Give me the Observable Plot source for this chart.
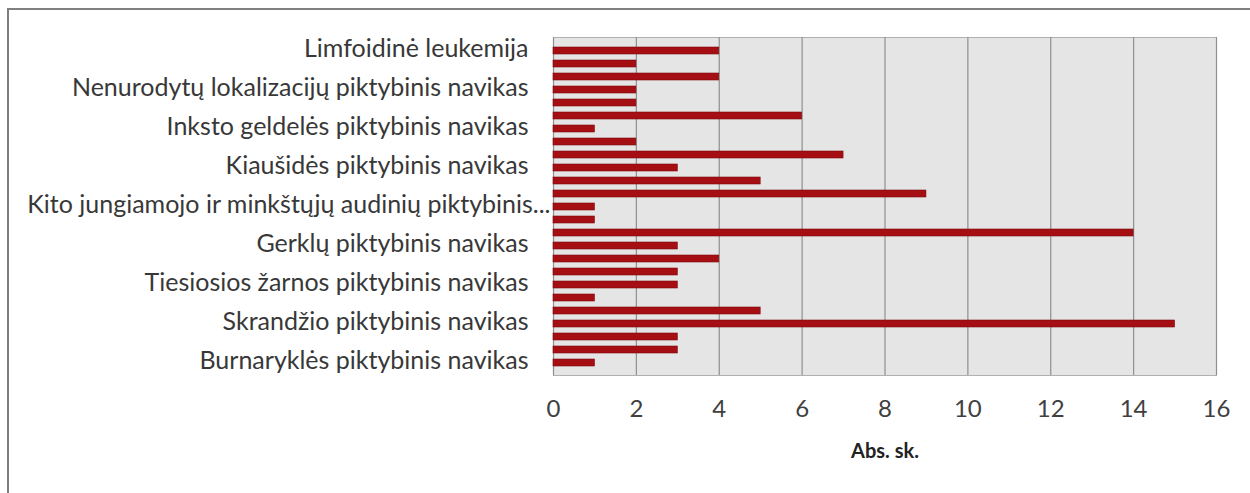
<!DOCTYPE html>
<html>
<head>
<meta charset="utf-8">
<script src="https://cdn.jsdelivr.net/npm/d3@7"></script>
<script src="https://cdn.jsdelivr.net/npm/@observablehq/plot@0.6"></script>
<style>
  html, body { margin: 0; padding: 0; background: #fff; overflow: hidden; }
  #wrap { position: relative; width: 1250px; height: 493px; overflow: hidden; }
  #frame { position: absolute; left: 7px; top: 8px; width: 1400px; height: 700px;
           border-left: 2px solid #7f7f7f; border-top: 2px solid #7f7f7f; box-sizing: border-box; }
  #chart { position: absolute; left: 0; top: 0; }
</style>
</head>
<body>
<div id="wrap"><div id="frame"></div><div id="chart"></div></div>
<script>
// Categories listed bottom (first) to top (last)
const categories = [
  "Burnaryklės piktybinis navikas",
  "Gerklinės ryklės piktybinis navikas",
  "Stemplės piktybinis navikas",
  "Skrandžio piktybinis navikas",
  "Storosios žarnos piktybinis navikas",
  "Rektosigmoidinės jungties piktybinis navikas",
  "Tiesiosios žarnos piktybinis navikas",
  "Kepenų piktybinis navikas",
  "Kasos piktybinis navikas",
  "Gerklų piktybinis navikas",
  "Bronchų ir plaučių piktybinis navikas",
  "Odos melanoma",
  "Kito jungiamojo ir minkštųjų audinių piktybinis navikas",
  "Krūties piktybinis navikas",
  "Gimdos kaklelio piktybinis navikas",
  "Kiaušidės piktybinis navikas",
  "Priešinės liaukos piktybinis navikas",
  "Inksto, išskyrus geldelę, piktybinis navikas",
  "Inksto geldelės piktybinis navikas",
  "Šlapimo pūslės piktybinis navikas",
  "Galvos smegenų piktybinis navikas",
  "Nenurodytų lokalizacijų piktybinis navikas",
  "Ne Hodžkino limfoma",
  "Daugybinė mieloma",
  "Limfoidinė leukemija"
];
const values = [1, 3, 3, 15, 5, 1, 3, 3, 4, 3, 14, 1, 1, 9, 5, 3, 7, 2, 1, 6, 2, 2, 4, 2, 4];
const xTicks = [0, 2, 4, 6, 8, 10, 12, 14, 16];
const xLabel = "Abs. sk.";

const data = categories.map((c, i) => ({category: c, value: values[i]}));
const shownTicks = categories.filter((c, i) => i % 3 === 0);
const longTicks = shownTicks.filter(c => c.length > 48);
const shortTicks = shownTicks.filter(c => c.length <= 48);
const trunc = c => c.slice(0, 48).replace(/\s+$/, "") + "...";

const chart = Plot.plot({
  width: 1250,
  height: 493,
  marginLeft: 553,
  marginRight: 34,
  marginTop: 37,
  marginBottom: 118,
  style: {fontFamily: "Lato, 'Open Sans', sans-serif", background: "transparent", color: "#404040"},
  x: {domain: [0, 16], ticks: xTicks, label: null},
  y: {domain: categories.slice().reverse(), paddingInner: 0.48, paddingOuter: 0.25, label: null},
  marks: [
    Plot.frame({fill: "#e5e5e5", stroke: "#b0b0b0"}),
    Plot.gridX(xTicks, {stroke: "#8f8f8f", strokeOpacity: 1, strokeWidth: 1.2}),
    Plot.barX(data, {x: "value", y: "category", fill: "#a50f14", stroke: "#7e0a10", strokeWidth: 0.6}),
    Plot.axisY(shortTicks, {tickSize: 0, tickPadding: 25, fontSize: 25, fill: "#383838", dy: -2}),
    Plot.axisY(longTicks, {tickSize: 0, tickPadding: 3, tickFormat: trunc, fontSize: 25, fill: "#383838", dy: -2}),
    Plot.axisX(xTicks, {tickSize: 0, tickPadding: 24, fontSize: 24, fill: "#404040", label: null}),
    Plot.text([xLabel], {frameAnchor: "bottom", dy: 82, fontSize: 20, fontWeight: "bold", fill: "#222"})
  ]
});
document.getElementById("chart").appendChild(chart);
</script>
</body>
</html>
